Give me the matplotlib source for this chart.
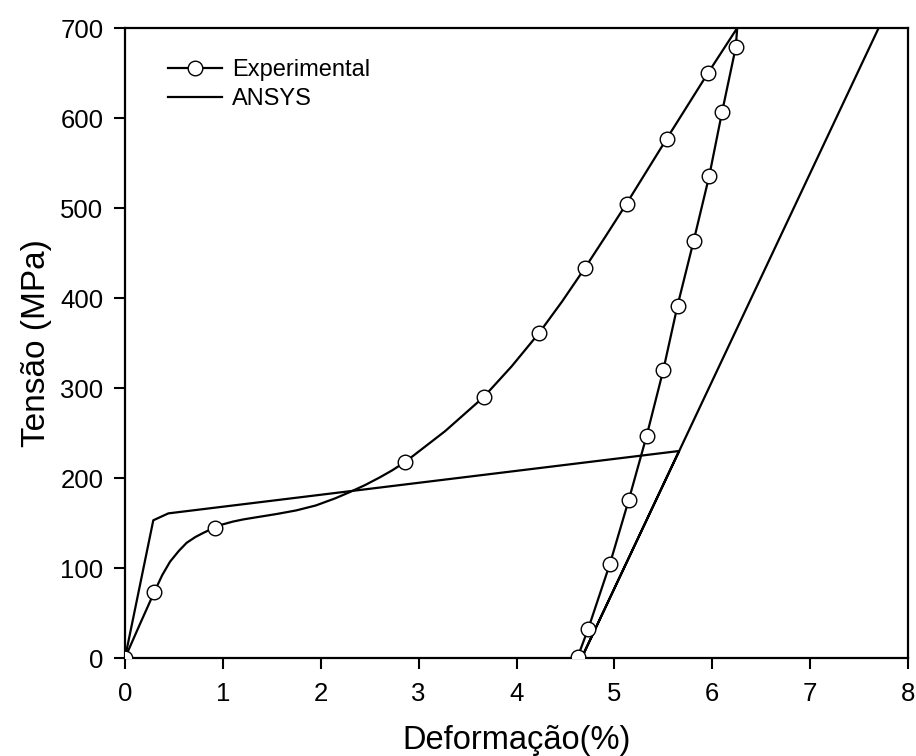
import matplotlib
matplotlib.use("Agg")
import matplotlib.pyplot as plt
from matplotlib.lines import Line2D

plt.rcParams['font.family'] = ['Liberation Sans', 'DejaVu Sans']

# Experimental markers (strain %, stress MPa)
exp_mark_x = [0, 0.30, 0.915, 2.865, 3.665, 4.23, 4.70, 5.125, 5.535, 5.955,
              6.24, 6.10, 5.97, 5.81, 5.645, 5.50, 5.33, 5.148, 4.954, 4.733, 4.624]
exp_mark_y = [0, 73.5, 145, 218, 290, 361, 433.5, 505, 577, 649.7,
              678.5, 606.5, 536, 463.5, 391.5, 320, 247, 176, 104.5, 32.5, 0.8]

# Experimental curve
exp_line_x = [0, 0.15, 0.30, 0.38, 0.46, 0.55, 0.63, 0.72, 0.80, 0.915, 1.0, 1.1,
              1.21, 1.35, 1.55, 1.75, 1.95, 2.15, 2.30, 2.45, 2.60, 2.73, 2.865,
              3.27, 3.665, 3.95, 4.23, 4.465, 4.70, 4.91, 5.125, 5.535, 5.955, 6.255,
              6.24, 6.10, 5.97, 5.81, 5.645, 5.50, 5.33, 5.148, 4.954, 4.733, 4.624]
exp_line_y = [0, 37, 73.5, 92, 107, 119, 128, 134.5, 139, 145, 148.5, 151.5,
              154, 156.5, 160, 164, 169.5, 177.5, 184.5, 192, 200.5, 208.5, 218,
              252, 290, 324, 361, 396, 433.5, 468.5, 505, 577, 649.7, 700,
              678.5, 606.5, 536, 463.5, 391.5, 320, 247, 176, 104.5, 32.5, 0.8]

# ANSYS curve
ansys_x = [0, 0.289, 0.443, 5.661, 4.665, 7.70]
ansys_y = [0, 153, 160.7, 230, 0, 700]

x_ticks = [0, 1, 2, 3, 4, 5, 6, 7, 8]
y_ticks = [0, 100, 200, 300, 400, 500, 600, 700]

fig = plt.figure(figsize=(9.16, 7.56), dpi=100)
ax = fig.add_axes([125/916, (756-658)/756, 783/916, 630/756])

lw = 1.6
ax.plot(exp_line_x, exp_line_y, color='black', lw=lw, zorder=2)
ax.plot(ansys_x, ansys_y, color='black', lw=lw, zorder=2)
ax.plot(exp_mark_x, exp_mark_y, linestyle='none', marker='o', markersize=10.5,
        markerfacecolor='white', markeredgecolor='black', markeredgewidth=1.0, zorder=3)

ax.set_xlim(0, 8)
ax.set_ylim(0, 700)
ax.set_xticks(x_ticks)
ax.set_yticks(y_ticks)
ax.tick_params(axis='both', direction='out', length=8, width=1.5, labelsize=18.5)
ax.tick_params(axis='x', pad=9.5)
ax.tick_params(axis='y', pad=7.5)
for s in ax.spines.values():
    s.set_linewidth(1.6)

ax.set_xlabel('Deformação(%)', fontsize=23.5)
ax.set_ylabel('Tensão (MPa)', fontsize=24)
ax.xaxis.set_label_coords(0.5, (658-724.5)/630)
ax.yaxis.set_label_coords((52-125)/783, 0.5)

h_exp = Line2D([], [], color='black', lw=lw, marker='o', markersize=10.5,
               markerfacecolor='white', markeredgecolor='black', markeredgewidth=1.0)
h_ans = Line2D([], [], color='black', lw=lw)
ax.legend([h_exp, h_ans], ['Experimental', 'ANSYS'], loc='upper left',
          bbox_to_anchor=((168-125)/783, (658-59)/630), frameon=False,
          fontsize=17, numpoints=1, handlelength=2.3, handletextpad=0.4,
          borderpad=0, borderaxespad=0, labelspacing=0.3)

fig.savefig('out.png', dpi=100)
